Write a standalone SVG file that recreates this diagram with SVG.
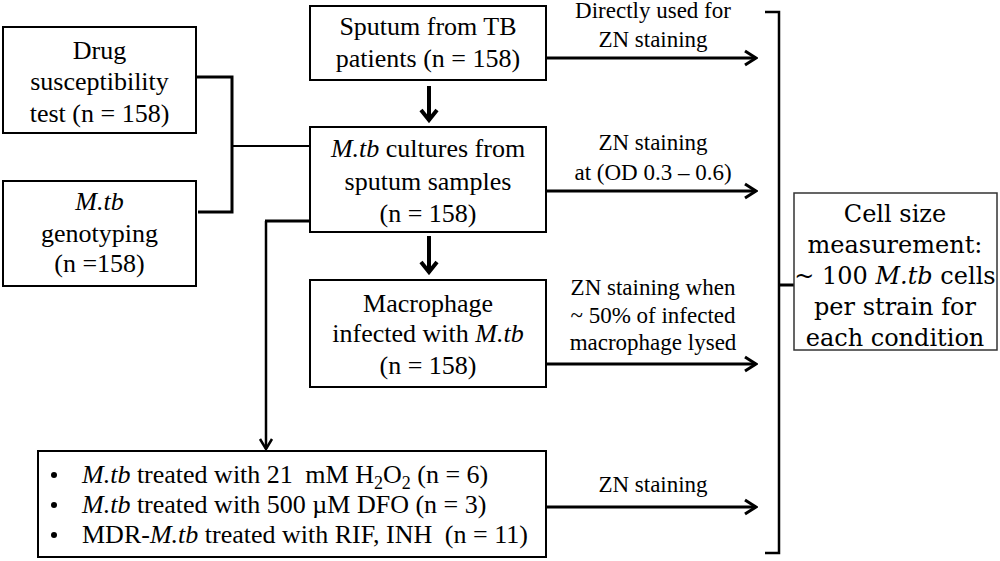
<svg xmlns="http://www.w3.org/2000/svg" width="1000" height="561" viewBox="0 0 1000 561">
<defs>
<marker id="ah" markerUnits="userSpaceOnUse" viewBox="-14 -10 16 20" markerWidth="16" markerHeight="20" refX="0" refY="0" orient="auto">
<path d="M-11,-7 L0,0 L-11,7" fill="none" stroke="#000" stroke-width="3"/>
</marker>
<marker id="ahd" markerUnits="userSpaceOnUse" viewBox="-14 -12 16 24" markerWidth="16" markerHeight="24" refX="0" refY="0" orient="auto">
<path d="M-11,-8 L-1,0 L-11,8" fill="none" stroke="#000" stroke-width="4"/>
</marker>
<marker id="ahs" markerUnits="userSpaceOnUse" viewBox="-12 -10 14 20" markerWidth="14" markerHeight="20" refX="0" refY="0" orient="auto">
<path d="M-10,-6 L0,0 L-10,6" fill="none" stroke="#000" stroke-width="2.5"/>
</marker>
</defs>
<rect width="1000" height="561" fill="#fff"/>

<g id="connectors">
<g fill="none" stroke="#000">
<path stroke-width="3" d="M196,77 H232 V212 H198"/>
<path stroke-width="2" d="M232,146 H310"/>
<path stroke-width="3" d="M265,221 H310"/>
<path stroke-width="2.5" d="M266,221 V449" marker-end="url(#ahs)"/>
<path stroke-width="4" d="M429,86 V121" marker-end="url(#ahd)"/>
<path stroke-width="4" d="M429,236 V273" marker-end="url(#ahd)"/>
<path stroke-width="3" d="M546,58 H756" marker-end="url(#ah)"/>
<path stroke-width="3" d="M546,191 H756" marker-end="url(#ah)"/>
<path stroke-width="3" d="M546,364 H756" marker-end="url(#ah)"/>
<path stroke-width="3" d="M546,507 H756" marker-end="url(#ah)"/>
<path stroke-width="2.5" d="M765,12 H779 V553 H765"/>
<path stroke-width="3" d="M779,285 H794"/>
</g>
<text font-family="Times New Roman" font-size="23" text-anchor="middle" x="653" y="18">Directly used for</text>
<text font-family="Times New Roman" font-size="23" text-anchor="middle" x="653" y="47">ZN staining</text>
<text font-family="Times New Roman" font-size="23" text-anchor="middle" x="653" y="150">ZN staining</text>
<text font-family="Times New Roman" font-size="23" text-anchor="middle" x="653" y="180">at (OD 0.3 – 0.6)</text>
<text font-family="Times New Roman" font-size="23" text-anchor="middle" x="653" y="295">ZN staining when</text>
<text font-family="Times New Roman" font-size="23" text-anchor="middle" x="653" y="323">~ 50% of infected</text>
<text font-family="Times New Roman" font-size="23" text-anchor="middle" x="653" y="350">macrophage lysed</text>
<text font-family="Times New Roman" font-size="23" text-anchor="middle" x="653" y="492">ZN staining</text>
</g>

<g id="drug">
<rect x="3" y="27" width="193" height="106" fill="#fff" stroke="#000" stroke-width="2"/>
<text font-family="serif" font-size="26" text-anchor="middle" x="99.5" y="59">Drug</text>
<text font-family="serif" font-size="26" text-anchor="middle" x="99.5" y="90">susceptibility</text>
<text font-family="serif" font-size="26" text-anchor="middle" x="99.5" y="122">test (n = 158)</text>
</g>

<g id="genotyping">
<rect x="3" y="181" width="193" height="105" fill="#fff" stroke="#000" stroke-width="2"/>
<text font-family="serif" font-size="26" text-anchor="middle" font-style="italic" x="99.5" y="210">M.tb</text>
<text font-family="serif" font-size="26" text-anchor="middle" x="99.5" y="242">genotyping</text>
<text font-family="serif" font-size="26" text-anchor="middle" x="99.5" y="272">(n =158)</text>
</g>

<g id="sputum">
<rect x="310" y="6" width="236" height="74" fill="#fff" stroke="#000" stroke-width="2"/>
<text font-family="Liberation Serif" font-size="26" text-anchor="middle" x="428" y="35">Sputum from TB</text>
<text font-family="Liberation Serif" font-size="26" text-anchor="middle" x="428" y="67">patients (n = 158)</text>
</g>

<g id="cultures">
<rect x="310" y="127" width="236" height="105" fill="#fff" stroke="#000" stroke-width="2"/>
<text font-family="Liberation Serif" font-size="26" text-anchor="middle" x="428" y="157"><tspan font-style="italic">M.tb</tspan> cultures from</text>
<text font-family="Liberation Serif" font-size="26" text-anchor="middle" x="428" y="190">sputum samples</text>
<text font-family="Liberation Serif" font-size="26" text-anchor="middle" x="428" y="222">(n = 158)</text>
</g>

<g id="macrophage">
<rect x="310" y="280" width="236" height="107" fill="#fff" stroke="#000" stroke-width="2"/>
<text font-family="Liberation Serif" font-size="26" text-anchor="middle" x="428" y="312">Macrophage</text>
<text font-family="Liberation Serif" font-size="26" text-anchor="middle" x="428" y="342">infected with <tspan font-style="italic">M.tb</tspan></text>
<text font-family="Liberation Serif" font-size="26" text-anchor="middle" x="428" y="374">(n = 158)</text>
</g>

<g id="treated">
<rect x="38" y="451" width="508" height="106" fill="#fff" stroke="#000" stroke-width="2"/>
<circle cx="54" cy="475" r="3"/>
<circle cx="54" cy="505" r="3"/>
<circle cx="54" cy="535" r="3"/>
<text font-family="Liberation Serif" font-size="26" x="82" y="483"><tspan font-style="italic">M.tb</tspan> treated with 21 <tspan dx="6">mM H</tspan><tspan font-size="18" dy="6">2</tspan><tspan dy="-6">O</tspan><tspan font-size="18" dy="6">2</tspan><tspan dy="-6"> (n = 6)</tspan></text>
<text font-family="Liberation Serif" font-size="26" x="82" y="513"><tspan font-style="italic">M.tb</tspan> treated with 500 &#181;M DFO (n = 3)</text>
<text font-family="Liberation Serif" font-size="26" x="82" y="543">MDR-<tspan font-style="italic">M.tb</tspan> treated with RIF, INH <tspan dx="6">(n = 11)</tspan></text>
</g>

<g id="cellsize">
<rect x="794" y="193" width="203" height="157" fill="#fff" stroke="#333" stroke-width="1.5"/>
<text font-family="DejaVu Serif" font-size="24" text-anchor="middle" x="895" y="222">Cell size</text>
<text font-family="DejaVu Serif" font-size="24" text-anchor="middle" x="895" y="253">measurement:</text>
<text font-family="DejaVu Serif" font-size="24" text-anchor="middle" x="895" y="284">~ 100 <tspan font-style="italic">M.tb</tspan> cells</text>
<text font-family="DejaVu Serif" font-size="24" text-anchor="middle" x="895" y="315">per strain for</text>
<text font-family="DejaVu Serif" font-size="24" text-anchor="middle" x="895" y="346">each condition</text>
</g>
</svg>
